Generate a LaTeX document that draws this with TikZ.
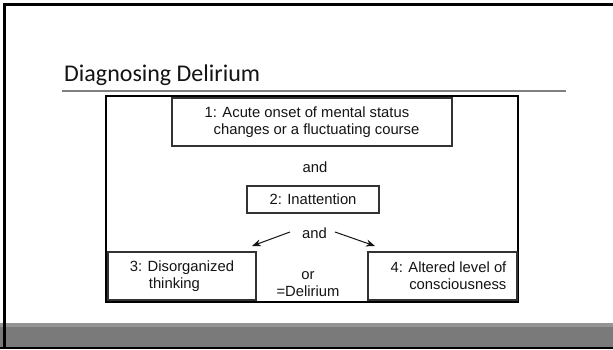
\documentclass[tikz,border=0pt]{standalone}
\usepackage{fontspec}
\setmainfont{Liberation Sans}
\newfontfamily\titlefont{Carlito}
\usetikzlibrary{calc,arrows.meta}
\definecolor{barmid}{RGB}{122,122,122}
\definecolor{barlight}{RGB}{148,148,148}
\definecolor{rulegray}{RGB}{128,128,128}
\definecolor{inkgray}{RGB}{20,20,20}
\begin{document}
\begin{tikzpicture}[x=1pt,y=-1pt,
  crit/.style={draw=black!80, line width=1.3pt, fill=white, inner sep=0pt,
    font=\fontsize{14.8}{17}\selectfont, text=inkgray},
  word/.style={font=\fontsize{14.8}{17}\selectfont, text=inkgray, inner sep=0pt},
  branch/.style={line width=1pt, draw=inkgray, -{Stealth[length=9pt,width=7pt]}}]
\useasboundingbox (0,0) rectangle (613,349);
% slide background and frame
\fill[white] (0,0) rectangle (613,349);
\fill[barlight] (0,323) rectangle (613,327);
\fill[barmid] (0,327) rectangle (613,347);
\fill[black] (0,347) rectangle (613,349);
\fill[black] (3,3) rectangle (613,5.5);
\fill[black] (3,3) rectangle (6,349);

% title with its rule
\node[anchor=base west, inner sep=0pt, text=inkgray,
  font=\titlefont\fontsize{24}{28}\selectfont] (title) at (64,81) {Diagnosing Delirium};
\draw[rulegray, line width=1.3pt] (62,91) -- (566,91);

% framed figure panel
\node[draw=black, line width=1.6pt, fill=white, minimum width=412pt, minimum height=206pt,
  inner sep=0pt] (panel) at (312,199) {};

% criteria
\node[crit, minimum width=280pt, minimum height=48pt, align=left] (c1) at (312,122)
  {1: Acute onset of mental status\\\hspace*{9pt}changes or a fluctuating course};
\node[word] (and1) at (315,167) {and};
\node[crit, minimum width=132pt, minimum height=27pt] (c2) at (313,199.5) {2: Inattention};
\node[word] (and2) at (314.5,233) {and};
\node[crit, minimum width=148pt, minimum height=48pt, align=left] (c3) at (182,276)
  {3: Disorganized\\\hspace*{19pt}thinking};
\node[crit, minimum width=149pt, minimum height=48pt, align=right] (c4) at (442.5,276)
  {\hspace*{12pt}4: Altered level of\\consciousness};
\node[word, align=center] (result) at (308,284.5) {or\\=Delirium};

% branches towards criteria 3 and 4
\coordinate (tip3) at (252,246);
\coordinate (tip4) at (375,246);
\draw[branch] ($(and2.west)+(-12,-1)$) -- (tip3);
\draw[branch] ($(and2.east)+(8,-1)$) -- (tip4);
\end{tikzpicture}
\end{document}
